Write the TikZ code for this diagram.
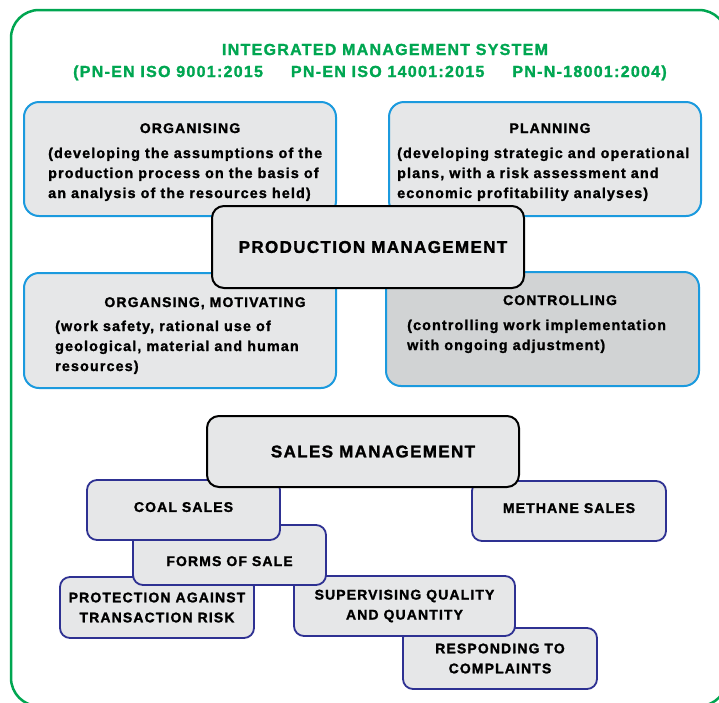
\documentclass[tikz,border=0pt]{standalone}
\usepackage{fontspec}
\setmainfont{Liberation Sans}[LetterSpace=8, FakeBold=1.5]

\definecolor{imsgreen}{RGB}{0,166,81}
\definecolor{procblue}{RGB}{27,154,222}
\definecolor{salesblue}{RGB}{46,49,146}
\definecolor{boxgray}{RGB}{230,231,232}
\definecolor{ctrlgray}{RGB}{209,211,212}

\tikzset{
  procbox/.style={draw=procblue, line width=2pt, fill=boxgray, rounded corners=15pt, inner sep=0pt},
  mgmtbox/.style={draw=black, line width=2pt, fill=boxgray, rounded corners=12pt, font=\fontsize{17}{20}\selectfont\bfseries},
  salebox/.style={draw=salesblue, line width=1.8pt, fill=boxgray, rounded corners=10pt, align=center, font=\fontsize{14}{20}\selectfont\bfseries},
  head/.style={font=\fontsize{14}{20}\selectfont\bfseries, inner sep=0pt, anchor=base},
  body/.style={font=\fontsize{14.3}{20}\selectfont\bfseries, inner sep=0pt, align=left, anchor=base west},
  title/.style={text=imsgreen, font=\fontsize{16}{20}\selectfont\bfseries, inner sep=0pt, anchor=base}
}

\begin{document}
\begin{tikzpicture}[x=1pt, y=-1pt]
  \useasboundingbox (0,0) rectangle (719,702);

  % ramka systemu
  \draw[imsgreen, line width=2.5pt, rounded corners=28pt] (11,10) rectangle (727,706);
  \node[title] (ims) at (385,55) {INTEGRATED MANAGEMENT SYSTEM};
  \node[title] (norms) at (370,77) {(PN-EN ISO 9001:2015\hspace{28pt}PN-EN ISO 14001:2015\hspace{28pt}PN-N-18001:2004)};

  % zarzadzanie produkcja
  \node[procbox, minimum width=312pt, minimum height=114pt] (org) at (180,159) {};
  \node[head] (orgT) at (190,133) {ORGANISING};
  \node[body] (orgB) at (48,198) {(developing the assumptions of the\\production process on the basis of\\an analysis of the resources held)};

  \node[procbox, minimum width=312pt, minimum height=114pt] (plan) at (545,159) {};
  \node[head] (planT) at (550,133) {PLANNING};
  \node[body] (planB) at (397,198) {(developing strategic and operational\\plans, with a risk assessment and\\economic profitability analyses)};

  \node[procbox, minimum width=312pt, minimum height=115pt] (mot) at (180,330.5) {};
  \node[head] (motT) at (205,307) {ORGANSING, MOTIVATING};
  \node[body] (motB) at (55,371) {(work safety, rational use of\\geological, material and human\\resources)};

  \node[procbox, fill=ctrlgray, minimum width=313pt, minimum height=114pt] (ctrl) at (542.5,329) {};
  \node[head] (ctrlT) at (560,305) {CONTROLLING};
  \node[body] (ctrlB) at (407,350) {(controlling work implementation\\with ongoing adjustment)};

  \node[mgmtbox, minimum width=312pt, minimum height=82pt] (prod) at (368,247) {\hspace*{10pt}PRODUCTION MANAGEMENT};

  % zarzadzanie sprzedaza
  \node[salebox, minimum width=194pt, minimum height=61pt] (resp) at (500,658.5) {RESPONDING TO\\COMPLAINTS};
  \node[salebox, minimum width=221pt, minimum height=60pt] (sup) at (404.5,606) {SUPERVISING QUALITY\\AND QUANTITY};
  \node[salebox, minimum width=194pt, minimum height=61pt] (prot) at (157,607.5) {PROTECTION AGAINST\\TRANSACTION RISK};
  \node[salebox, minimum width=193pt, minimum height=60pt, text height=22pt, text depth=0pt] (forms) at (229.5,555) {FORMS OF SALE};
  \node[salebox, minimum width=193pt, minimum height=60pt, text depth=6pt] (coal) at (183.5,510) {COAL SALES};
  \node[salebox, minimum width=194pt, minimum height=60pt, text depth=6pt] (meth) at (569,511) {METHANE SALES};

  \node[mgmtbox, minimum width=312pt, minimum height=71pt] (sales) at (363,451.5) {\hspace*{20pt}SALES MANAGEMENT};

\end{tikzpicture}
\end{document}
